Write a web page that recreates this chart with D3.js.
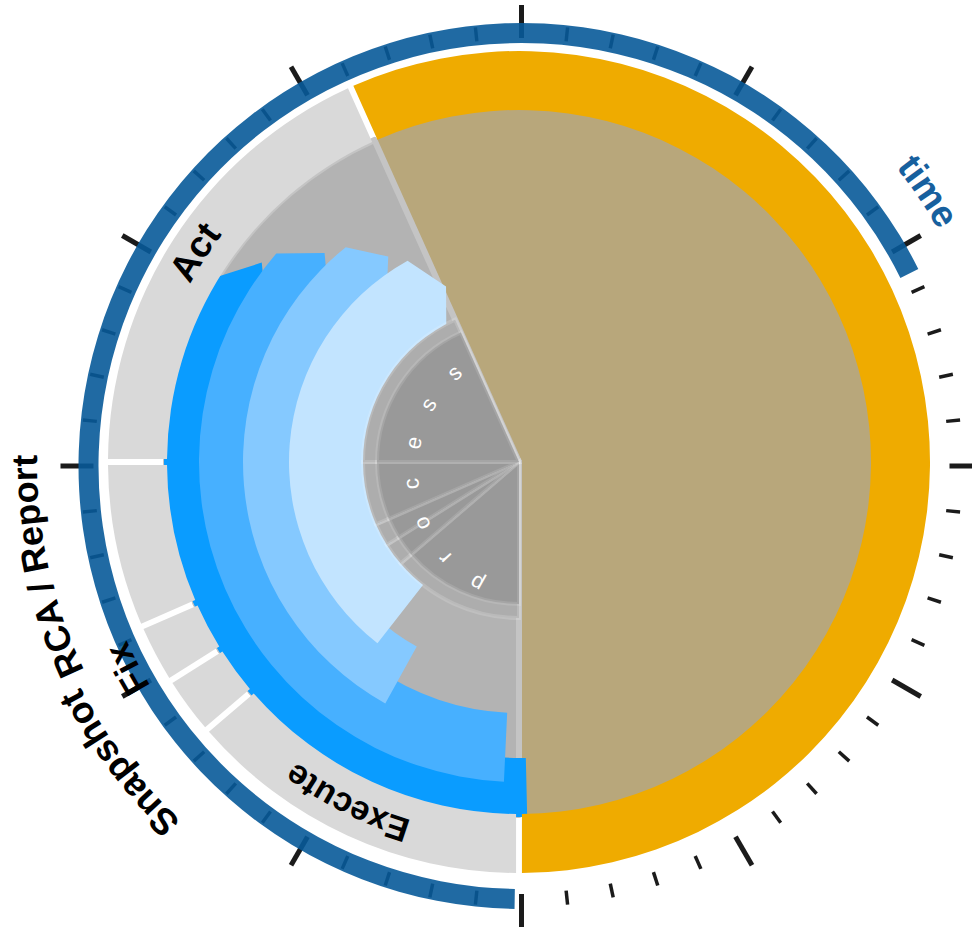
<!DOCTYPE html>
<html><head><meta charset="utf-8">
<script src="https://cdn.jsdelivr.net/npm/d3@7"></script>
<style>
html,body{margin:0;padding:0;background:#fff;}
svg{display:block;}
</style></head><body>
<svg id="chart" width="972" height="930"></svg>
<script>
// ---------------- data (clock minutes, 60 = full turn) ----------------
const phaseNames    = ["Execute", "Snapshot", "Fix", "RCA / Report", "Act", "wait"];
const phaseStartMin = [30.0, 38.23, 39.65, 41.07, 45.0, 55.97];
const phaseEndMin   = [38.23, 39.65, 41.07, 45.0, 55.97, 90.0];
const phaseLabelled = [true, true, true, true, true, false];

const taskNames    = ["task 1", "task 2", "task 3", "task 4"];
const taskStartMin = [29.78, 30.45, 34.83, 36.33];
const taskEndMin   = [50.23, 51.78, 53.52, 55.17];

const timelineStartMin = 30.15;
const timelineEndMin   = 70.6;
const tickMinutes = d3.range(0, 60);
const centerLabel = "process";
const axisLabel = "time";
const axisLabelMin = 9.33;

// ---------------- layout / style ----------------
const C = {x: 519, y: 462};      // chart centre
const T = {x: 521.5, y: 466};    // time ring centre
const ringA = {r0: 352, r1: 411};
const innerR = 353;
const procR = {outer: 156, inner: 142};
const taskBands = [[296, 355], [251, 320], [211, 276], [150, 230]];
const taskColors = ["#0a9cff", "#47b0ff", "#85c9ff", "#c2e4ff"];
const tipDeg = 6.4;
// label placement: baseline radius, angular shift (deg), font size
const labelStyle = {
  "Execute":      {r: 374, shift: 2.0,  size: 34},
  "Act":          {r: 374, shift: 0,    size: 37},
  "Snapshot":     {r: 493, shift: -0.6, size: 37},
  "Fix":          {r: 431, shift: 0,    size: 36},
  "RCA / Report": {r: 482, shift: -0.6, size: 36}
};
const procText = {dx: 22, dy: 8, r: 123, a0: 209.5, a1: 318.4, size: 22};
const font = "'Liberation Sans', Arial, Helvetica, sans-serif";

const angle = d3.scaleLinear().domain([0, 60]).range([0, 2 * Math.PI]);
const rad = d => d * Math.PI / 180;

const phases = phaseNames.map((n, i) => ({
  name: n, start: phaseStartMin[i], end: phaseEndMin[i], labelled: phaseLabelled[i], idle: n === "wait"
}));
const tasks = taskNames.map((n, i) => ({name: n, start: taskStartMin[i], end: taskEndMin[i], i}));

const svg = d3.select("#chart");
const defs = svg.append("defs");

// ---------------- inner pie ----------------
const gC = svg.append("g").attr("transform", `translate(${C.x},${C.y})`);
const pieArc = d3.arc().innerRadius(0).outerRadius(innerR)
  .startAngle(d => angle(d.start)).endAngle(d => angle(d.end));

gC.append("g").selectAll("path").data(phases.filter(p => p.idle)).join("path")
  .attr("d", pieArc).attr("fill", "#b8a77b");
gC.append("g").selectAll("path").data(phases.filter(p => !p.idle)).join("path")
  .attr("d", pieArc).attr("fill", "#b3b3b3")
  .attr("stroke", "#c4c4c4").attr("stroke-width", 6).attr("stroke-linejoin", "round");

// ---------------- task arrows ----------------
function arrowPath(d) {
  const [r0, r1] = taskBands[d.i];
  const a0 = angle(d.start), a1 = angle(d.end), rm = (r0 + r1) / 2;
  const pt = (r, a) => [r * Math.sin(a), -r * Math.cos(a)];
  const p = d3.path();
  p.moveTo(...pt(r1, a0));
  p.arc(0, 0, r1, a0 - Math.PI / 2, a1 - Math.PI / 2, false);
  p.lineTo(...pt(rm, a1 + rad(tipDeg)));
  p.lineTo(...pt(r0, a1));
  p.arc(0, 0, r0, a1 - Math.PI / 2, a0 - Math.PI / 2, true);
  p.closePath();
  return p.toString();
}
gC.append("g").selectAll("path").data(tasks).join("path")
  .attr("d", arrowPath).attr("fill", d => taskColors[d.i]);

// ---------------- process sector ----------------
const work = phases.filter(p => !p.idle);
const procOuter = d3.arc().innerRadius(0).outerRadius(procR.outer)
  .startAngle(d => angle(d.start)).endAngle(d => angle(d.end));
const procInner = d3.arc().innerRadius(0).outerRadius(procR.inner)
  .startAngle(d => angle(d.start)).endAngle(d => angle(d.end));
gC.append("g").selectAll("path").data(work).join("path")
  .attr("d", procOuter).attr("fill", "#adadad")
  .attr("stroke", "rgba(255,255,255,0.16)").attr("stroke-width", 4);
gC.append("g").selectAll("path").data(work).join("path")
  .attr("d", procInner).attr("fill", "#999999")
  .attr("stroke", "rgba(255,255,255,0.12)").attr("stroke-width", 4);

const letters = centerLabel.split("");
const letterAngle = d3.scaleLinear().domain([0, letters.length - 1]).range([procText.a0, procText.a1]);
gC.append("g").attr("transform", `translate(${procText.dx},${procText.dy})`)
  .selectAll("text").data(letters).join("text")
  .attr("transform", (d, i) => `rotate(${letterAngle(i)}) translate(0,${-procText.r})`)
  .attr("text-anchor", "middle")
  .attr("font-family", font).attr("font-size", procText.size).attr("fill", "#fff")
  .text(d => d);

// ---------------- ring A (phases) ----------------
const ringArc = d3.arc().innerRadius(ringA.r0).outerRadius(ringA.r1)
  .startAngle(d => angle(d.start)).endAngle(d => angle(d.end))
  .padAngle(0.014).padRadius(420);
gC.append("g").selectAll("path").data(phases).join("path")
  .attr("d", ringArc).attr("fill", d => d.idle ? "#efab00" : "#d9d9d9");

// ---------------- time ring + ticks ----------------
const gT = svg.append("g").attr("transform", `translate(${T.x},${T.y})`);
gT.append("g").selectAll("line").data(tickMinutes).join("line")
  .each(function(m) {
    const a = angle(m), major = m % 5 === 0;
    const r0 = major ? 428 : 427, r1 = major ? 461 : 441;
    d3.select(this)
      .attr("x1", r0 * Math.sin(a)).attr("y1", -r0 * Math.cos(a))
      .attr("x2", r1 * Math.sin(a)).attr("y2", -r1 * Math.cos(a))
      .attr("stroke", "#1b1b1b").attr("stroke-width", major ? 5 : 3.5);
  });
gT.append("path")
  .attr("d", d3.arc().innerRadius(423).outerRadius(443)
    .startAngle(angle(timelineStartMin)).endAngle(angle(timelineEndMin))())
  .attr("fill", "rgb(8,90,153)").attr("opacity", 0.9);

// ---------------- labels ----------------
function labelArcPath(midA, r, span) {
  const p = d3.path();
  const a0 = midA - span, a1 = midA + span;
  p.moveTo(r * Math.sin(a0), -r * Math.cos(a0));
  p.arc(0, 0, r, a0 - Math.PI / 2, a1 - Math.PI / 2, false);
  return p.toString();
}
phases.filter(p => p.labelled).forEach((p, i) => {
  const id = "lbl" + i, st = labelStyle[p.name];
  defs.append("path").attr("id", id)
    .attr("d", labelArcPath(angle((p.start + p.end) / 2) + rad(st.shift), st.r, 1.2))
    .attr("transform", `translate(${C.x},${C.y})`);
  svg.append("text")
    .attr("font-family", font).attr("font-weight", "bold").attr("font-size", st.size).attr("fill", "#000")
    .append("textPath").attr("href", "#" + id).attr("startOffset", "50%").attr("text-anchor", "middle")
    .text(p.name);
});
defs.append("path").attr("id", "lblTime")
  .attr("d", labelArcPath(angle(axisLabelMin), 479, 1.2))
  .attr("transform", `translate(${T.x},${T.y})`);
svg.append("text")
  .attr("font-family", font).attr("font-weight", "bold").attr("font-size", 37).attr("fill", "#17609e")
  .append("textPath").attr("href", "#lblTime").attr("startOffset", "50%").attr("text-anchor", "middle")
  .text(axisLabel);
</script>
</body></html>
